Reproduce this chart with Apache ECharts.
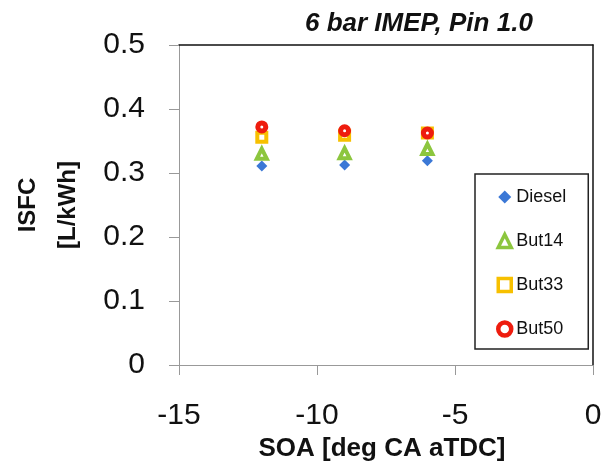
<!DOCTYPE html>
<html><head><meta charset="utf-8">
<script src="https://cdn.jsdelivr.net/npm/echarts@6/dist/echarts.min.js"></script>
<style>html,body{margin:0;padding:0;background:#fff}#c{width:616px;height:470px}</style>
</head><body><div id="c"></div>
<script>
const soa = [-12, -9, -6];
const diesel = [0.311, 0.3125, 0.319];
const but14 = [0.330, 0.331, 0.3375];
const but33 = [0.356, 0.359, 0.3625];
const but50 = [0.372, 0.366, 0.3625];
const seriesNames = ['Diesel', 'But14', 'But33', 'But50'];
const xTicks = [-15, -10, -5, 0];
const yTicks = [0, 0.1, 0.2, 0.3, 0.4, 0.5];

const FONT = 'Liberation Sans';
const pts = arr => soa.map((x, i) => [x, arr[i]]);
const styles = {
  Diesel: {color: '#3b78d6', borderWidth: 0},
  But14: {color: '#ffffff', borderColor: '#8cc63e', borderWidth: 4},
  But33: {color: '#ffffff', borderColor: '#f7c000', borderWidth: 4},
  But50: {color: '#ffffff', borderColor: '#ee1c0e', borderWidth: 5}
};

const chart = echarts.init(document.getElementById('c'), null, {renderer: 'canvas'});
chart.setOption({
  animation: false,
  backgroundColor: '#fff',
  title: {
    text: '6 bar IMEP, Pin 1.0',
    left: 300, top: 6,
    textStyle: {fontFamily: FONT, fontSize: 26, fontWeight: 'bold', fontStyle: 'italic', color: '#111'}
  },
  grid: {left: 179, top: 45, width: 414, height: 320, containLabel: false, outerBoundsMode: 'none'},
  legend: {
    orient: 'vertical',
    left: 475, top: 174,
    padding: [14, 22, 11, 21],
    itemWidth: 13, itemHeight: 13, itemGap: 26,
    borderColor: '#222', borderWidth: 1.5,
    backgroundColor: '#fff',
    textStyle: {fontFamily: FONT, fontSize: 18, color: '#111'},
    data: [
      {name: 'Diesel', icon: 'diamond', itemStyle: {color: '#3b78d6', borderWidth: 0}},
      {name: 'But14', icon: 'triangle', itemStyle: {color: '#ffffff', borderColor: '#8cc63e', borderWidth: 3.5}},
      {name: 'But33', icon: 'rect', itemStyle: {color: '#ffffff', borderColor: '#f7c000', borderWidth: 3.5}},
      {name: 'But50', icon: 'circle', itemStyle: {color: '#ffffff', borderColor: '#ee1c0e', borderWidth: 4.5}}
    ]
  },
  xAxis: [{
    type: 'value', min: xTicks[0], max: xTicks[xTicks.length - 1], interval: 5,
    name: 'SOA [deg CA aTDC]', nameLocation: 'middle', nameGap: 70,
    nameTextStyle: {fontFamily: FONT, fontSize: 26, fontWeight: 'bold', color: '#111', padding: [0, 8, 0, 0]},
    axisLine: {onZero: false, lineStyle: {color: '#999', width: 1}},
    axisTick: {show: true, length: 10, lineStyle: {color: '#999'}},
    axisLabel: {fontFamily: FONT, fontSize: 30, color: '#111', margin: 36},
    splitLine: {show: false}
  }, {
    type: 'value', position: 'top', min: -15, max: 0,
    axisLine: {onZero: false, lineStyle: {color: '#111', width: 1.5}},
    axisTick: {show: false}, axisLabel: {show: false}, splitLine: {show: false}
  }],
  yAxis: [{
    type: 'value', min: yTicks[0], max: yTicks[yTicks.length - 1], interval: 0.1,
    name: 'ISFC\n[L/kWh]', nameLocation: 'middle', nameGap: 91, nameRotate: 90,
    nameTextStyle: {fontFamily: FONT, fontSize: 24, fontWeight: 'bold', color: '#111', lineHeight: 40},
    axisLine: {show: true, onZero: false, lineStyle: {color: '#999', width: 1}},
    axisTick: {show: true, length: 10, lineStyle: {color: '#999'}},
    axisLabel: {fontFamily: FONT, fontSize: 30, color: '#111', margin: 34},
    splitLine: {show: false}
  }, {
    type: 'value', position: 'right', min: 0, max: 0.5,
    axisLine: {show: true, onZero: false, lineStyle: {color: '#111', width: 1.5}},
    axisTick: {show: false}, axisLabel: {show: false}, splitLine: {show: false}
  }],
  series: [
    {name: 'Diesel', type: 'scatter', data: pts(diesel), symbol: 'diamond', symbolSize: 11,
     itemStyle: Object.assign({opacity: 1}, styles.Diesel)},
    {name: 'But14', type: 'scatter', data: pts(but14), symbol: 'triangle', symbolSize: 10,
     itemStyle: Object.assign({opacity: 1}, styles.But14)},
    {name: 'But33', type: 'scatter', data: pts(but33), symbol: 'rect', symbolSize: 9,
     itemStyle: Object.assign({opacity: 1}, styles.But33)},
    {name: 'But50', type: 'scatter', data: pts(but50), symbol: 'circle', symbolSize: 8,
     itemStyle: Object.assign({opacity: 1}, styles.But50)}
  ]
});
</script></body></html>
